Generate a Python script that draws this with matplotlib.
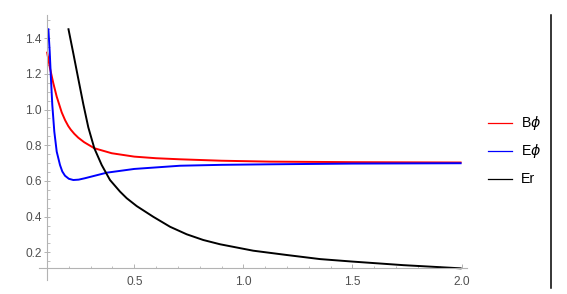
import matplotlib
matplotlib.use("Agg")
import matplotlib.pyplot as plt
from matplotlib.lines import Line2D
import numpy as np

plt.rcParams['font.family'] = ['Liberation Sans', 'DejaVu Sans']

# ---- data ----
bphi_x = [0.100, 0.1137, 0.129, 0.1445, 0.1674, 0.183, 0.1976, 0.209, 0.225, 0.2434, 0.270, 0.3168, 0.3965, 0.500, 0.600, 0.710, 0.900, 1.120, 1.500, 2.000]
bphi_y = [1.324, 1.231, 1.147, 1.072, 0.984, 0.940, 0.907, 0.887, 0.864, 0.842, 0.817, 0.783, 0.755, 0.736, 0.727, 0.721, 0.713, 0.708, 0.705, 0.703]

ephi_x = [0.106, 0.1124, 0.118, 0.1243, 0.1335, 0.1445, 0.1596, 0.170, 0.1825, 0.200, 0.2205, 0.245, 0.274, 0.3736, 0.500, 0.710, 0.900, 1.120, 1.500, 2.000]
ephi_y = [1.455, 1.324, 1.175, 1.025, 0.876, 0.764, 0.689, 0.653, 0.629, 0.612, 0.605, 0.607, 0.615, 0.646, 0.667, 0.685, 0.690, 0.693, 0.697, 0.699]

er_x = [0.1976, 0.2205, 0.2434, 0.2664, 0.2893, 0.3168, 0.3507, 0.3887, 0.4346, 0.4653, 0.511, 0.587, 0.664, 0.740, 0.816, 0.893, 1.045, 1.198, 1.351, 1.500, 1.733, 2.000]
er_y = [1.455, 1.315, 1.172, 1.030, 0.900, 0.783, 0.689, 0.605, 0.540, 0.503, 0.459, 0.399, 0.343, 0.301, 0.269, 0.245, 0.209, 0.185, 0.162, 0.148, 0.128, 0.110]

series_labels = ['B$\\phi$', 'E$\\phi$', 'Er']
series_colors = ['#ff0000', '#0000ff', '#000000']

x_major = [0.5, 1.0, 1.5, 2.0]
x_major_labels = ['0.5', '1.0', '1.5', '2.0']
y_major = [0.2, 0.4, 0.6, 0.8, 1.0, 1.2, 1.4]
y_major_labels = ['0.2', '0.4', '0.6', '0.8', '1.0', '1.2', '1.4']

# ---- figure ----
W, H = 567, 294
fig = plt.figure(figsize=(W / 100, H / 100), dpi=100)

L, R, T, B = 38, 472, 15, 281
ax = fig.add_axes([L / W, (H - B) / H, (R - L) / W, (B - T) / H])

# pixel -> data mapping
def px_to_u(px):
    return 0.1 + (px - 47) / 218.2

def py_to_v(py):
    return 0.2 + (252.3 - py) / 178.5

ax.set_xlim(px_to_u(L), px_to_u(R))
ax.set_ylim(py_to_v(B), py_to_v(T))

lines = []
for xs, ys, lab, col in zip([bphi_x, ephi_x, er_x], [bphi_y, ephi_y, er_y], series_labels, series_colors):
    ln, = ax.plot(xs, ys, color=col, lw=1.4, label=lab, solid_joinstyle='round', solid_capstyle='butt')
    lines.append(ln)

axis_col = '#b3b3b3'
for s in ['top', 'right']:
    ax.spines[s].set_visible(False)
ax.spines['left'].set_position(('data', 0.1))
ax.spines['bottom'].set_position(('data', py_to_v(268.3)))
ax.spines['left'].set_bounds(py_to_v(280), py_to_v(T))
ax.spines['bottom'].set_bounds(px_to_u(39), px_to_u(467))
for s in ['left', 'bottom']:
    ax.spines[s].set_color(axis_col)
    ax.spines[s].set_linewidth(0.8)

ax.set_xticks(x_major)
ax.set_xticklabels(x_major_labels)
ax.set_xticks(np.round(np.arange(0.1, 2.01, 0.1), 2), minor=True)
ax.set_yticks(y_major)
ax.set_yticklabels(y_major_labels)
ax.set_yticks(np.round(np.arange(0.15, 1.51, 0.05), 2), minor=True)

ax.tick_params(axis='x', which='major', direction='in', length=3.2, width=0.7,
               color=axis_col, labelsize=8.6, labelcolor='#505050', pad=5.5)
ax.tick_params(axis='x', which='minor', direction='in', length=1.8, width=0.6, color=axis_col)
ax.tick_params(axis='y', which='major', direction='inout', length=4.5, width=0.7,
               color=axis_col, labelsize=8.6, labelcolor='#505050', pad=1.5)
ax.tick_params(axis='y', which='minor', direction='in', length=1.8, width=0.6, color=axis_col)

# legend
leg_y = [122.7, 151.0, 179.3]
for ln, ypx in zip(lines, leg_y):
    fig.add_artist(Line2D([488 / W, 512 / W], [1 - ypx / H, 1 - ypx / H],
                          color=ln.get_color(), lw=0.9))
    fig.text(521 / W, 1 - ypx / H, ln.get_label(), fontsize=10.2, color='black',
             va='center', ha='left')

# right frame line
fig.add_artist(Line2D([550.7 / W, 550.7 / W], [1 - 15 / H, 1 - 288 / H], color='black', lw=1.1))

fig.savefig('out.png', dpi=100)
